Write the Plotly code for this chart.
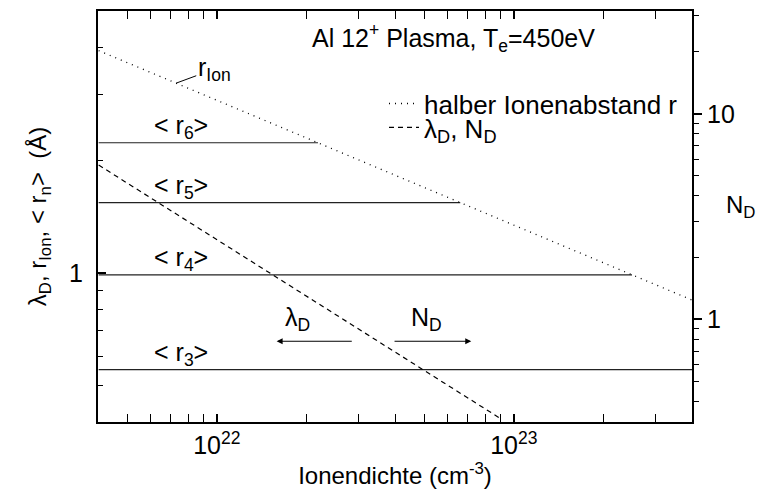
import math
import plotly.graph_objects as go

# ---------------- data ----------------
# Ion density axis (cm^-3)
x_range_lo = 3.98e21
x_range_hi = 3.98e23

# half ion spacing r_Ion (Angstrom), dotted line
rion_x = [4.0e21, 1.0e22, 3.0e22, 1.0e23, 4.0e23]
rion_y = [3.92, 2.89, 2.00, 1.34, 0.845]

# Debye length lambda_D (Angstrom) / N_D, dashed line
lam_x = [4.0e21, 1.0e22, 2.0e22, 5.0e22, 9.0e22]
lam_y = [1.94, 1.226, 0.867, 0.548, 0.409]

# N_D (right axis) for the same dashed line
nd_x = [4.0e21, 1.0e22, 2.0e22, 5.0e22, 9.0e22]
nd_y = [5.68, 3.59, 2.54, 1.61, 1.20]

# mean orbit radii <r_n> (Angstrom), horizontal lines
rn_labels = ["3", "4", "5", "6"]
rn_values = [0.552, 0.988, 1.541, 2.225]
rn_end_x = [4.0e23, 2.5e23, 6.6e22, 2.19e22]
rn_start_x = 4.0e21

# tick labels
x_major = [1e22, 1e23]
x_major_text = ["10<sup>22</sup>", "10<sup>23</sup>"]
x_minor = [4e21, 5e21, 6e21, 7e21, 8e21, 9e21,
           2e22, 3e22, 4e22, 5e22, 6e22, 7e22, 8e22, 9e22,
           2e23, 3e23]
y_major = [1]
y_major_text = ["1"]
y_minor = [0.4, 0.5, 0.6, 0.7, 0.8, 0.9, 2, 3, 4, 5]
y2_major = [1, 10]
y2_major_text = ["1", "10"]
y2_minor = [0.4, 0.5, 0.6, 0.7, 0.8, 0.9, 2, 3, 4, 5, 6, 7, 8, 9, 20, 30]

FONT = "Arial, 'Liberation Sans', sans-serif"
L = math.log10

fig = go.Figure()

# horizontal <r_n> lines
for lab, val, xe in zip(rn_labels, rn_values, rn_end_x):
    fig.add_trace(go.Scatter(x=[rn_start_x, xe], y=[val, val], mode="lines",
                             line=dict(color="#222222", width=1.2),
                             showlegend=False, hoverinfo="skip"))

fig.add_trace(go.Scatter(x=rion_x, y=rion_y, mode="lines",
                         name="halber Ionenabstand r", legend="legend",
                         line=dict(color="black", width=1.3, dash="1px,5px")))
fig.add_trace(go.Scatter(x=lam_x, y=lam_y, mode="lines",
                         name="λ<sub>D</sub>, N<sub>D</sub>", legend="legend2",
                         line=dict(color="black", width=1.2, dash="5px,4px")))
fig.add_trace(go.Scatter(x=nd_x, y=nd_y, mode="lines", yaxis="y2",
                         line=dict(color="rgba(0,0,0,0)", width=1),
                         showlegend=False, hoverinfo="skip"))

ann = []
# <r_n> labels
for lab, val in zip(rn_labels, rn_values):
    ann.append(dict(x=21.88, y=L(val), xref="x", yref="y",
                    text="< r<sub>%s</sub>>" % lab, showarrow=False,
                    yanchor="bottom", xanchor="center", yshift=-2,
                    font=dict(size=25, family=FONT, color="black")))
# r_Ion label with leader
ann.append(dict(x=L(7.3e21), y=L(3.21), xref="x", yref="y",
                text="r<sub>Ion</sub>", showarrow=True, arrowhead=0,
                arrowwidth=1, arrowcolor="black", ax=38, ay=-14,
                standoff=0, startstandoff=0,
                font=dict(size=25, family=FONT, color="black")))
# direction arrows
ann.append(dict(x=L(1.59e22), y=L(0.657), xref="x", yref="y",
                ax=L(2.88e22), ay=L(0.657), axref="x", ayref="y",
                text="", showarrow=True, arrowhead=2, arrowsize=1.2,
                arrowwidth=1, arrowcolor="black"))
ann.append(dict(x=L(7.19e22), y=L(0.657), xref="x", yref="y",
                ax=L(3.92e22), ay=L(0.657), axref="x", ayref="y",
                text="", showarrow=True, arrowhead=2, arrowsize=1.2,
                arrowwidth=1, arrowcolor="black"))
ann.append(dict(x=22.27, y=L(0.657), xref="x", yref="y", yshift=4,
                text="λ<sub>D</sub>", showarrow=False, yanchor="bottom",
                font=dict(size=25, family=FONT, color="black")))
ann.append(dict(x=22.705, y=L(0.657), xref="x", yref="y", yshift=4,
                text="N<sub>D</sub>", showarrow=False, yanchor="bottom",
                font=dict(size=25, family=FONT, color="black")))
# right axis title (horizontal)
ann.append(dict(x=(724 - 98) / 594, y=0.525, xref="paper", yref="paper",
                text="N<sub>D</sub>", showarrow=False, xanchor="left",
                font=dict(size=24, family=FONT, color="black")))
# chart title inside the frame
ann.append(dict(x=(453 - 98) / 594, y=(421.7 - 36) / 412.7,
                xref="paper", yref="paper",
                text="Al 12<sup>+</sup> Plasma, T<sub>e</sub>=450eV",
                showarrow=False, xanchor="center", yanchor="middle",
                font=dict(size=25, family=FONT, color="black")))

leg_common = dict(xanchor="left", yanchor="middle",
                  bgcolor="rgba(0,0,0,0)", font=dict(size=26, family=FONT),
                  itemwidth=30)

fig.update_layout(
    width=761, height=490,
    margin=dict(l=98, r=69, t=9, b=68),
    paper_bgcolor="white", plot_bgcolor="white",
    font=dict(family=FONT, size=24, color="black"),
    showlegend=True,
    legend=dict(x=(384 - 98) / 594, y=(421.7 - 102) / 412.7, **leg_common),
    legend2=dict(x=(384 - 98) / 594, y=(421.7 - 126) / 412.7, **leg_common),
    xaxis=dict(type="log", range=[L(x_range_lo), L(x_range_hi)],
               showline=True, linecolor="black", linewidth=2,
               mirror="allticks", ticks="inside", ticklen=8, tickwidth=1.5,
               tickcolor="black",
               tickmode="array", tickvals=x_major, ticktext=x_major_text,
               minor=dict(tickmode="array", tickvals=x_minor, ticks="inside",
                          ticklen=5, tickwidth=1.2, tickcolor="black",
                          showgrid=False),
               showgrid=False, zeroline=False,
               tickfont=dict(size=25, family=FONT),
               title=dict(text="Ionendichte (cm<sup>-3</sup>)",
                          font=dict(size=24, family=FONT), standoff=3)),
    yaxis=dict(type="log", range=[L(0.4), L(5)],
               showline=True, linecolor="black", linewidth=2,
               mirror=False, ticks="inside", ticklen=8, tickwidth=1.5,
               tickcolor="black",
               tickmode="array", tickvals=y_major, ticktext=y_major_text,
               minor=dict(tickmode="array", tickvals=y_minor, ticks="inside",
                          ticklen=5, tickwidth=1.2, tickcolor="black",
                          showgrid=False),
               showgrid=False, zeroline=False, ticklabelstandoff=8,
               tickfont=dict(size=25, family=FONT),
               title=dict(text="λ<sub>D</sub>, r<sub>Ion</sub>, < r<sub>n</sub>>  (Å)",
                          font=dict(size=24, family=FONT), standoff=16)),
    yaxis2=dict(type="log", range=[-0.5, 1.5], overlaying="y", side="right",
                showline=True, linecolor="black", linewidth=2,
                ticks="outside", ticklen=8, tickwidth=1.5, tickcolor="black",
                tickmode="array", tickvals=y2_major, ticktext=y2_major_text,
                minor=dict(tickmode="array", tickvals=y2_minor, ticks="outside",
                           ticklen=5, tickwidth=1.2, tickcolor="black",
                           showgrid=False),
                showgrid=False, zeroline=False,
                tickfont=dict(size=25, family=FONT)),
    annotations=ann,
)

fig.write_html("out.html")
